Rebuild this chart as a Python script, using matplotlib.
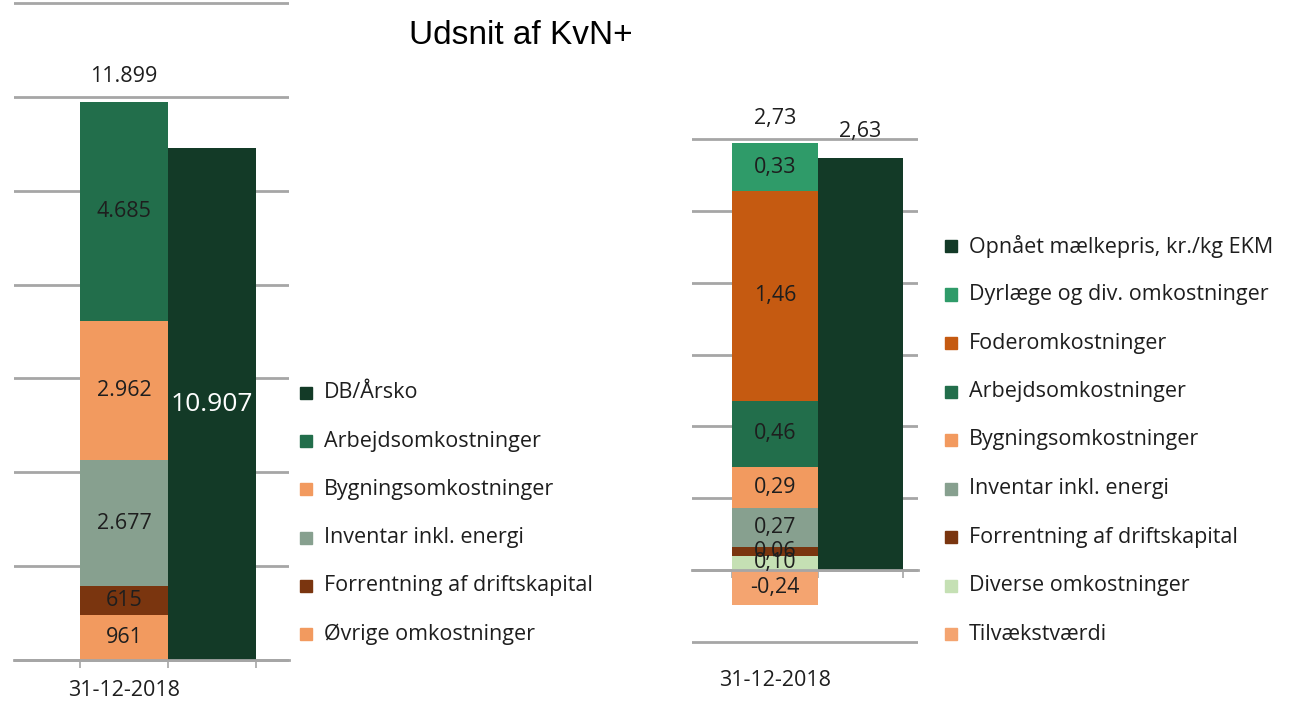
import numpy as np
import matplotlib.pyplot as plt
from matplotlib.patches import Rectangle

plt.rcParams['font.family'] = ['Open Sans', 'DejaVu Sans']

W, H = 1299, 702

# ---- data, left chart (kr. pr. årsko)
left_names = ['Øvrige omkostninger', 'Forrentning af driftskapital', 'Inventar inkl. energi',
              'Bygningsomkostninger', 'Arbejdsomkostninger']
left_values = [961, 615, 2677, 2962, 4685]
left_colors = ['#F29A5F', '#7A350F', '#87A08F', '#F29A5F', '#226E4B']
left_total = 11899
db_name = 'DB/Årsko'
db_value = 10907
db_color = '#133A27'

# ---- data, right chart (kr./kg EKM)
right_names = ['Tilvækstværdi', 'Diverse omkostninger', 'Forrentning af driftskapital',
               'Inventar inkl. energi', 'Bygningsomkostninger', 'Arbejdsomkostninger',
               'Foderomkostninger', 'Dyrlæge og div. omkostninger']
right_values = [-0.24, 0.10, 0.06, 0.27, 0.29, 0.46, 1.46, 0.33]
right_colors = ['#F4A470', '#C5E0B4', '#7A350F', '#87A08F', '#F29A5F', '#226E4B',
                '#C55A11', '#2F9B69']
right_total = 2.73
milk_name = 'Opnået mælkepris, kr./kg EKM'
milk_value = 2.63
milk_color = '#133A27'

category = '31-12-2018'
txt = '#1E1E1E'
grid = '#A6A6A6'
fs = 15.5

fig = plt.figure(figsize=(W / 100, H / 100), dpi=100)


def px_axes(x0, y0, x1, y1):
    # pixel box (top-left origin) -> figure axes
    return fig.add_axes([x0 / W, 1 - y1 / H, (x1 - x0) / W, (y1 - y0) / H])


def style(ax, ymin, ymax, step, pad):
    ax.set_ylim(ymin - pad, ymax + pad)
    ax.set_yticks(np.arange(ymin, ymax + step / 2, step))
    ax.yaxis.grid(True, color=grid, lw=2)
    ax.set_axisbelow(True)
    ax.tick_params(axis='y', length=0, labelleft=False)
    for s in ['top', 'left', 'right']:
        ax.spines[s].set_visible(False)
    ax.spines['bottom'].set_position(('data', 0))
    ax.spines['bottom'].set_color(grid)
    ax.spines['bottom'].set_linewidth(2)
    ax.set_xticks([-0.5, 0.5, 1.5])
    ax.tick_params(axis='x', direction='out', length=6, width=1.2, color=grid, labelbottom=False)


def fmt(v, dec):
    if dec == 0:
        return f'{v:,.0f}'.replace(',', '.')
    return f'{v:.{dec}f}'.replace('.', ',')


def stack(ax, values, colors, dec):
    pos, neg = 0.0, 0.0
    for v, c in zip(values, colors):
        if v >= 0:
            b = pos
            pos += v
        else:
            b = neg
            neg += v
        ax.bar(0, v, bottom=b, width=1, color=c)
        ax.text(0, b + v / 2, fmt(v, dec), ha='center', va='center', color=txt, fontsize=fs)
    return pos


# ---- left chart
axl = px_axes(14, 1, 289, 662)
style(axl, 0, 14000, 2000, 14000 / 657 * 2)
axl.set_xlim(-1.25, 1.875)
top = stack(axl, left_values, left_colors, 0)
axl.annotate(fmt(left_total, 0), (0, top), xytext=(0, 25), textcoords='offset pixels',
             ha='center', va='center', color=txt, fontsize=fs)
axl.bar(1, db_value, width=1, color=db_color)
axl.text(1, db_value / 2, fmt(db_value, 0), ha='center', va='center', color='white',
         fontsize=19)
fig.text(124 / W, 1 - 690 / H, category, ha='center', va='center', color=txt, fontsize=fs)

# ---- right chart
axr = px_axes(692, 137, 918, 644)
style(axr, -0.5, 3.0, 0.5, 3.5 / 503 * 2)
axr.set_xlim(-0.97, 1.676)
top = stack(axr, right_values, right_colors, 2)
axr.annotate(fmt(right_total, 2), (0, top), xytext=(0, 25), textcoords='offset pixels',
             ha='center', va='center', color=txt, fontsize=fs)
# the milk price bar in the source is drawn offset by the negative tilvækst value
milk_h = milk_value - right_values[0]
axr.bar(1, milk_h, width=1, color=milk_color)
axr.annotate(fmt(milk_value, 2), (1, milk_h), xytext=(0, 26), textcoords='offset pixels',
             ha='center', va='center', color=txt, fontsize=fs)
fig.text(775 / W, 1 - 680 / H, category, ha='center', va='center', color=txt, fontsize=fs)


# ---- legends
def legend(x, y0, dy, names, colors):
    for i, (n, c) in enumerate(zip(names, colors)):
        y = y0 + i * dy
        fig.patches.append(Rectangle((x / W, 1 - (y + 6) / H), 12 / W, 12 / H,
                                     transform=fig.transFigure, color=c))
        fig.text((x + 24) / W, 1 - y / H, n, ha='left', va='center', color=txt, fontsize=fs)


legend(300, 393, 48.2, [db_name] + left_names[::-1], [db_color] + left_colors[::-1])
legend(945, 246, 48.5, [milk_name] + right_names[::-1], [milk_color] + right_colors[::-1])

fig.text(521 / W, 1 - 35 / H, 'Udsnit af KvN+', ha='center', va='center',
         fontsize=24, family='Liberation Sans', color='black')

fig.savefig('out.png', dpi=100)
